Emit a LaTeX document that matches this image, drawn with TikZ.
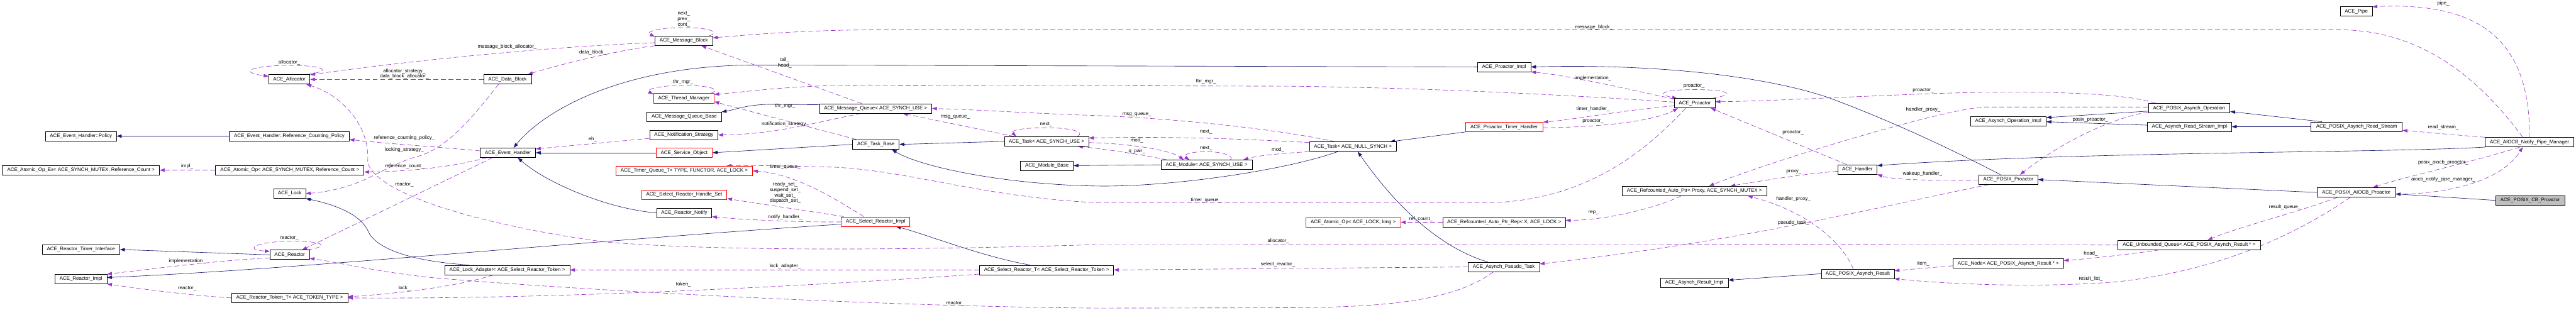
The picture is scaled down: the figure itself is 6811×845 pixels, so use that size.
\documentclass[tikz,border=0pt]{standalone}
\usepackage{fontspec}
\setmainfont{Liberation Sans}
\usetikzlibrary{arrows.meta,calc,backgrounds}
\definecolor{Inherit}{RGB}{25,25,112}
\definecolor{Usage}{RGB}{154,50,205}
\definecolor{BoxRed}{RGB}{255,0,0}
\definecolor{BoxGray}{RGB}{191,191,191}
\tikzset{
  cls/.style={draw=black,line width=0.35pt,inner sep=0pt,minimum height=2.5mm,fill=white,font=\fontsize{3.75}{4.1}\selectfont},
  clsred/.style={cls,draw=BoxRed},
  clsgray/.style={cls,fill=BoxGray},
  inherit/.style={draw=Inherit,line width=0.3pt,-{Triangle[length=1.3mm,width=0.9mm]}},
  uses/.style={draw=Usage,line width=0.3pt,dash pattern=on 1.3mm off 0.7mm,-{Triangle[length=1.3mm,width=0.9mm]}},
  lbl/.style={inner sep=0pt,align=center,font=\fontsize{3.75}{4.1}\selectfont}
}

\begin{document}
\begin{tikzpicture}[x=0.1mm,y=-0.1mm]
  \useasboundingbox (0,0) rectangle (6811,845);

  % classes, column by column
  \node[cls,minimum width=18.8mm] (policy) at (214,360) {ACE\_Event\_Handler::Policy};
  \node[cls,minimum width=41.6mm] (atomopex) at (214,450) {ACE\_Atomic\_Op\_Ex< ACE\_SYNCH\_MUTEX, Reference\_Count >};
  \node[cls,minimum width=20.5mm] (timerif) at (214,660) {ACE\_Reactor\_Timer\_Interface};
  \node[cls,minimum width=13.7mm] (reactimpl) at (214,738) {ACE\_Reactor\_Impl};

  \node[cls,minimum width=10.9mm] (alloc) at (765,210) {ACE\_Allocator};
  \node[cls,minimum width=31.7mm] (refpol) at (765,360) {ACE\_Event\_Handler::Reference\_Counting\_Policy};
  \node[cls,minimum width=39.3mm] (atomop) at (766,450) {ACE\_Atomic\_Op< ACE\_SYNCH\_MUTEX, Reference\_Count >};
  \node[cls,minimum width=8.4mm] (lock) at (766,512) {ACE\_Lock};
  \node[cls,minimum width=10.4mm] (reactor) at (766,674) {ACE\_Reactor};
  \node[cls,minimum width=30.7mm] (tokent) at (766,788) {ACE\_Reactor\_Token\_T< ACE\_TOKEN\_TYPE >};

  \node[cls,minimum width=12.6mm] (datablk) at (1342,210) {ACE\_Data\_Block};
  \node[cls,minimum width=14.6mm] (evh) at (1343,404) {ACE\_Event\_Handler};
  \node[cls,minimum width=33.1mm] (lockadp) at (1341,714) {ACE\_Lock\_Adapter< ACE\_Select\_Reactor\_Token >};

  \node[cls,minimum width=15.2mm] (msgblk) at (1808,108) {ACE\_Message\_Block};
  \node[clsred,minimum width=16.0mm] (thrmgr) at (1808,260) {ACE\_Thread\_Manager};
  \node[cls,minimum width=19.7mm] (mqbase) at (1809,309) {ACE\_Message\_Queue\_Base};
  \node[cls,minimum width=18.1mm] (notstrat) at (1808,357) {ACE\_Notification\_Strategy};
  \node[clsred,minimum width=14.9mm] (svcobj) at (1809,404) {ACE\_Service\_Object};
  \node[clsred,minimum width=36.2mm] (tqueue) at (1809,452) {ACE\_Timer\_Queue\_T< TYPE, FUNCTOR, ACE\_LOCK >};
  \node[clsred,minimum width=22.6mm] (hset) at (1809,515) {ACE\_Select\_Reactor\_Handle\_Set};
  \node[cls,minimum width=14.6mm] (rnotify) at (1809,563) {ACE\_Reactor\_Notify};

  \node[cls,minimum width=29.7mm] (msgq) at (2315,287) {ACE\_Message\_Queue< ACE\_SYNCH\_USE >};
  \node[cls,minimum width=12.3mm] (taskbase) at (2316,382) {ACE\_Task\_Base};
  \node[clsred,minimum width=18.1mm] (selimpl) at (2315,586) {ACE\_Select\_Reactor\_Impl};

  \node[cls,minimum width=22.3mm] (tasksy) at (2767,374) {ACE\_Task< ACE\_SYNCH\_USE >};
  \node[cls,minimum width=14.0mm] (modbase) at (2768,438) {ACE\_Module\_Base};
  \node[cls,minimum width=35.5mm] (selrt) at (2767,714) {ACE\_Select\_Reactor\_T< ACE\_Select\_Reactor\_Token >};

  \node[cls,minimum width=24.1mm] (module) at (3190,436) {ACE\_Module< ACE\_SYNCH\_USE >};

  \node[cls,minimum width=22.9mm] (tasknull) at (3577,388) {ACE\_Task< ACE\_NULL\_SYNCH >};
  \node[clsred,minimum width=25.0mm] (atomlong) at (3578,588) {ACE\_Atomic\_Op< ACE\_LOCK, long >};

  \node[cls,minimum width=14.1mm] (proimpl) at (3977,177) {ACE\_Proactor\_Impl};
  \node[clsred,minimum width=20.5mm] (tmhandler) at (3977,336) {ACE\_Proactor\_Timer\_Handler};
  \node[cls,minimum width=32.4mm] (ptrrep) at (3977,588) {ACE\_Refcounted\_Auto\_Ptr\_Rep< X, ACE\_LOCK >};
  \node[cls,minimum width=18.9mm] (pseudo) at (3976,706) {ACE\_Asynch\_Pseudo\_Task};

  \node[cls,minimum width=10.8mm] (proactor) at (4481,273) {ACE\_Proactor};
  \node[cls,minimum width=38.3mm] (autoptr) at (4480,505) {ACE\_Refcounted\_Auto\_Ptr< Proxy, ACE\_SYNCH\_MUTEX >};
  \node[cls,minimum width=17.9mm] (resimpl) at (4480,748) {ACE\_Asynch\_Result\_Impl};

  \node[cls,minimum width=10.4mm] (handler) at (4911,448) {ACE\_Handler};
  \node[cls,minimum width=19.3mm] (pxresult) at (4912,724) {ACE\_POSIX\_Asynch\_Result};

  \node[cls,minimum width=20.0mm] (opimpl) at (5310,320) {ACE\_Asynch\_Operation\_Impl};
  \node[cls,minimum width=15.7mm] (pxproactor) at (5310,475) {ACE\_POSIX\_Proactor};
  \node[cls,minimum width=29.2mm] (anode) at (5310,697) {ACE\_Node< ACE\_POSIX\_Asynch\_Result * >};

  \node[cls,minimum width=21.6mm] (pxop) at (5788,286) {ACE\_POSIX\_Asynch\_Operation};
  \node[cls,minimum width=22.2mm] (rsimpl) at (5789,335) {ACE\_Asynch\_Read\_Stream\_Impl};
  \node[cls,minimum width=37.6mm] (uqueue) at (5788,648) {ACE\_Unbounded\_Queue< ACE\_POSIX\_Asynch\_Result * >};

  \node[cls,minimum width=8.4mm] (pipe) at (6230,30) {ACE\_Pipe};
  \node[cls,minimum width=24.1mm] (pxrs) at (6231,335) {ACE\_POSIX\_Asynch\_Read\_Stream};
  \node[cls,minimum width=20.7mm] (aiocb) at (6230,509) {ACE\_POSIX\_AIOCB\_Proactor};

  \node[cls,minimum width=23.5mm] (npm) at (6688,376) {ACE\_AIOCB\_Notify\_Pipe\_Manager};
  \node[clsgray,minimum width=18.2mm] (cbpro) at (6690,530) {ACE\_POSIX\_CB\_Proactor};

  \begin{scope}[on background layer]
    \fill[white] (0,0) rectangle (6811,845);

    % inheritance
    \draw[inherit] (refpol.west) -- (policy.east);
    \draw[inherit] (reactor.west) -- (timerif.east);
    \draw[inherit] ($(selimpl.west)+(0,7)$) .. controls (1500,640) and (800,712) .. ($(reactimpl.east)+(0,-4)$);
    \draw[inherit] ($(lockadp.north west)+(64,0)$) .. controls (1050,688) and (990,645) .. (975,615) .. controls (955,565) and (880,540) .. (lock.south east);
    \draw[inherit] (taskbase.west) -- (svcobj.east);
    \draw[inherit] (svcobj.west) -- (evh.east);
    \draw[inherit] (rnotify.west) .. controls (1600,552) and (1440,480) .. ($(evh.south)+(26,0)$);
    \draw[inherit] (proimpl.west) -- (2000,172) .. controls (1650,172) and (1440,290) .. ($(evh.north)+(15,0)$);
    \draw[inherit] ($(selrt.north)+(-43,0)$) .. controls (2600,680) and (2450,620) .. ($(selimpl.south)+(54,0)$);
    \draw[inherit] ($(msgq.west)+(0,-10)$) -- (2040,276) .. controls (1975,276) and (1945,290) .. (mqbase.north east);
    \draw[inherit] (tasksy.west) -- (taskbase.east);
    \draw[inherit] ($(tasknull.south)+(-40,0)$) .. controls (3400,450) and (3100,495) .. (2900,492) .. controls (2650,488) and (2430,440) .. ($(taskbase.south)+(42,0)$);
    \draw[inherit] (module.west) -- (modbase.east);
    \draw[inherit] (tmhandler.south west) -- ($(tasknull.north east)+(-17,0)$);
    \draw[inherit] ($(pseudo.north)+(-42,0)$) .. controls (3820,660) and (3700,560) .. ($(tasknull.south)+(13,0)$);
    \draw[inherit] ($(pxproactor.north)+(-21,0)$) .. controls (5150,390) and (5000,320) .. (4837,259) .. controls (4680,205) and (4400,168) .. (proimpl.east);
    \draw[inherit] ($(pxop.west)+(0,8)$) -- ($(opimpl.east)+(0,-9)$);
    \draw[inherit] ($(rsimpl.west)+(0,-4)$) -- ($(opimpl.east)+(0,2)$);
    \draw[inherit] (pxresult.west) -- ($(resimpl.east)+(0,-7)$);
    \draw[inherit] (npm.south west) .. controls (6300,405) and (5500,400) .. ($(handler.north east)+(0,3)$);
    \draw[inherit] (aiocb.west) -- (pxproactor.east);
    \draw[inherit] ($(pxrs.north west)+(29,0)$) -- ($(pxop.east)+(0,9)$);
    \draw[inherit] (pxrs.west) -- (rsimpl.east);
    \draw[inherit] (cbpro.west) -- ($(aiocb.east)+(0,4)$);

    % members, left part
    \draw[uses] (atomop.west) -- (atomopex.east);
    \draw[uses] ($(reactor.south west)+(0,-5)$) .. controls (560,690) and (400,712) .. (reactimpl.north east);
    \draw[uses] (tokent.west) .. controls (500,781) and (380,765) .. (reactimpl.south east);
    \draw[uses] ($(reactor.north east)+(-6,0)$) .. controls (880,650) and (850,637) .. (765,638) .. controls (680,639) and (640,660) .. ($(reactor.north west)+(0,4)$);
    \draw[uses] ($(evh.south west)+(33,0)$) -- ($(reactor.north)+(33,0)$);
    \draw[uses] ($(evh.south west)+(18,0)$) .. controls (1200,440) and (1100,453) .. ($(atomop.east)+(0,5)$);
    \draw[uses] ($(evh.west)+(0,-5)$) .. controls (1150,388) and (1000,378) .. ($(refpol.east)+(0,9)$);
    \draw[uses] ($(datablk.south)+(-24,0)$) .. controls (1250,310) and (1180,395) .. (1100,415) .. controls (1010,440) and (960,500) .. (lock.east);
    \draw[uses] (datablk.west) -- (alloc.east);
    \draw[uses] ($(msgblk.west)+(0,5)$) .. controls (1400,125) and (1000,172) .. ($(alloc.north east)+(0,1)$);
    \draw[uses] (msgblk.south west) .. controls (1650,130) and (1480,170) .. ($(datablk.north east)+(-10,0)$);
    \draw[uses] (uqueue.west) -- (2900,647) .. controls (2400,662) and (1900,665) .. (1600,640) .. controls (1300,600) and (1000,520) .. (972,430) .. controls (980,330) and (900,250) .. ($(alloc.south east)+(-10,0)$);
    \draw[uses] ($(alloc.north east)+(-8,0)$) .. controls (880,188) and (860,173) .. (765,173) .. controls (670,173) and (625,190) .. ($(alloc.north west)+(0,5)$);
    \draw[uses] ($(msgq.north west)+(113,0)$) -- ($(msgblk.south east)+(-30,0)$);
    \draw[uses] ($(msgq.south west)+(110,0)$) .. controls (2150,325) and (2050,355) .. (notstrat.east);
    \draw[uses] ($(notstrat.west)+(0,9)$) -- ($(evh.north east)+(0,3)$);
    \draw[uses] ($(msgblk.north east)+(-10,0)$) .. controls (1905,86) and (1880,73) .. (1808,73) .. controls (1736,73) and (1705,85) .. ($(msgblk.north west)+(0,2)$);
    \draw[uses] ($(thrmgr.north east)+(-10,0)$) .. controls (1910,238) and (1880,226) .. (1808,226) .. controls (1736,226) and (1705,238) .. ($(thrmgr.north west)+(0,2)$);
    \draw[uses] ($(taskbase.north west)+(10,0)$) -- ($(thrmgr.south east)+(0,-4)$);
    \draw[uses] ($(proactor.west)+(0,-3)$) .. controls (4200,255) and (3800,232) .. (3400,228) -- (2300,225) .. controls (2100,225) and (2000,240) .. ($(thrmgr.north east)+(0,3)$);

    % members of the reactor side
    \draw[uses] ($(selimpl.north west)+(60,0)$) .. controls (2200,520) and (2100,460) .. (tqueue.east);
    \draw[uses] ($(proactor.south west)+(31,0)$) .. controls (4350,400) and (4200,525) .. (3950,536) -- (2900,536) .. controls (2600,522) and (2400,450) .. (2200,442) .. controls (2050,438) and (1960,437) .. ($(tqueue.north east)+(-70,0)$);
    \draw[uses] ($(selimpl.north west)+(7,0)$) .. controls (2150,560) and (2000,538) .. ($(hset.south east)+(0,-3)$);
    \draw[uses] ($(selimpl.west)+(0,1)$) .. controls (2100,588) and (1950,580) .. ($(rnotify.east)+(0,10)$);
    \draw[uses] ($(tasksy.north west)+(27,0)$) -- ($(msgq.south east)+(-77,0)$);
    \draw[uses] ($(tasknull.north west)+(68,0)$) .. controls (3400,345) and (3100,310) .. (2850,304) .. controls (2700,298) and (2560,289) .. (msgq.east);
    \draw[uses] ($(tasksy.north east)+(-30,0)$) .. controls (2870,348) and (2830,338) .. (2766,338) .. controls (2700,338) and (2670,345) .. ($(tasksy.north west)+(32,0)$);
    \draw[uses] ($(tasknull.west)+(0,-11)$) .. controls (3300,368) and (3100,360) .. ($(tasksy.east)+(0,-9)$);
    \draw[uses] ($(tasksy.east)+(0,3)$) .. controls (3000,380) and (3100,400) .. ($(module.north west)+(61,0)$);
    \draw[uses] ($(module.north west)+(17,0)$) .. controls (3000,405) and (2900,392) .. ($(tasksy.south east)+(-29,0)$);
    \draw[uses] ($(module.north east)+(-58,0)$) .. controls (3265,412) and (3230,401) .. (3189,401) .. controls (3148,401) and (3125,410) .. ($(module.north west)+(76,0)$);
    \draw[uses] (tasknull.south west) .. controls (3400,405) and (3330,410) .. ($(module.north east)+(-24,0)$);
    \draw[uses] (pseudo.west) -- (selrt.east);
    \draw[uses] ($(pseudo.south)+(-27,0)$) .. controls (3850,790) and (3700,813) .. (3400,814) -- (2900,815) .. controls (2300,810) and (1500,765) .. (1150,735) .. controls (1000,720) and (900,695) .. ($(reactor.south east)+(0,-4)$);
    \draw[uses] (selrt.west) -- (lockadp.east);
    \draw[uses] ($(selrt.south west)+(0,-2)$) .. controls (2200,752) and (1500,792) .. (tokent.east);
    \draw[uses] ($(lockadp.south west)+(130,0)$) .. controls (1200,760) and (1050,776) .. ($(tokent.east)+(0,-3)$);

    % members of the proactor side
    \draw[uses] (ptrrep.west) -- (atomlong.east);
    \draw[uses] ($(autoptr.south)+(-35,0)$) .. controls (4380,550) and (4250,582) .. ($(ptrrep.east)+(0,-5)$);
    \draw[uses] ($(proactor.north west)+(0,2)$) .. controls (4300,235) and (4150,200) .. (proimpl.south east);
    \draw[uses] ($(proactor.south west)+(0,-6)$) .. controls (4300,290) and (4150,318) .. (tmhandler.north east);
    \draw[uses] ($(tmhandler.east)+(0,2)$) .. controls (4250,336) and (4380,318) .. ($(proactor.south west)+(10,0)$);
    \draw[uses] ($(proactor.north east)+(-8,0)$) .. controls (4590,250) and (4575,237) .. (4479,237) .. controls (4390,237) and (4380,250) .. ($(proactor.north west)+(8,0)$);
    \draw[uses] ($(pxop.north west)+(20,0)$) .. controls (5600,240) and (5300,238) .. (5000,252) .. controls (4800,260) and (4650,268) .. ($(proactor.east)+(0,-4)$);
    \draw[uses] ($(pxop.west)+(0,-3)$) -- (5250,283) .. controls (5150,285) and (4700,420) .. ($(autoptr.north)+(39,0)$);
    \draw[uses] ($(pxop.south west)+(0,-3)$) .. controls (5550,320) and (5420,400) .. ($(pxproactor.north)+(31,0)$);
    \draw[uses] ($(handler.north)+(-29,0)$) -- ($(proactor.south east)+(-12,0)$);
    \draw[uses] ($(handler.west)+(0,5)$) .. controls (4750,462) and (4650,480) .. ($(autoptr.north east)+(-97,0)$);
    \draw[uses] ($(pxproactor.west)+(0,2)$) .. controls (5100,478) and (5000,475) .. (handler.south east);
    \draw[uses] ($(pxproactor.south west)+(28,0)$) .. controls (5000,540) and (4600,640) .. ($(pseudo.east)+(0,-8)$);
    \draw[uses] ($(pxresult.north)+(-12,0)$) .. controls (4870,640) and (4780,560) .. ($(autoptr.south east)+(-51,0)$);
    \draw[uses] ($(anode.west)+(0,6)$) -- ($(pxresult.east)+(0,-8)$);
    \draw[uses] ($(aiocb.south)+(-16,0)$) .. controls (6100,600) and (5900,712) .. (5600,745) .. controls (5400,762) and (5150,752) .. (pxresult.south east);
    \draw[uses] ($(aiocb.south west)+(54,0)$) .. controls (6080,560) and (5920,600) .. ($(uqueue.north)+(49,0)$);
    \draw[uses] ($(uqueue.south west)+(110,0)$) .. controls (5650,670) and (5520,685) .. ($(anode.east)+(0,-8)$);
    \draw[uses] (npm.north) .. controls (6690,100) and (6550,5) .. ($(pipe.north east)+(0,1)$);
    \draw[uses] ($(npm.north)+(-18,0)$) .. controls (6550,200) and (6400,85) .. (6200,79) -- (2300,79) .. controls (2100,80) and (1950,95) .. ($(msgblk.east)+(0,-8)$);
    \draw[uses] (npm.north west) .. controls (6500,358) and (6420,350) .. ($(pxrs.east)+(0,10)$);
    \draw[uses] ($(npm.south)+(-26,0)$) .. controls (6550,425) and (6350,470) .. ($(aiocb.north east)+(-60,0)$);
    \draw[uses] ($(aiocb.east)+(0,5)$) .. controls (6500,512) and (6620,470) .. ($(npm.south)+(-18,0)$);
  \end{scope}

  % member names
  \node[lbl] (l1) at (495,440) {impl\_};
  \node[lbl] (l2) at (495,690) {implementation\_};
  \node[lbl] (l3) at (495,762) {reactor\_};
  \node[lbl] (l4) at (765,166) {allocator\_};
  \node[lbl] (l5) at (1069,195) {allocator\_strategy\_\\data\_block\_allocator\_};
  \node[lbl] (l6) at (1069,365) {reference\_counting\_policy\_};
  \node[lbl] (l7) at (1069,397) {locking\_strategy\_};
  \node[lbl] (l8) at (1069,440) {reference\_count\_};
  \node[lbl] (l9) at (1069,489) {reactor\_};
  \node[lbl] (l10) at (765,629) {reactor\_};
  \node[lbl] (l11) at (1069,762) {lock\_};
  \node[lbl] (l12) at (1341,123) {message\_block\_allocator\_};
  \node[lbl] (l13) at (1567,138) {data\_block\_};
  \node[lbl] (l14) at (1567,369) {eh\_};
  \node[lbl] (l15) at (1808,51) {next\_\\prev\_\\cont\_};
  \node[lbl] (l16) at (2075,166) {tail\_\\head\_};
  \node[lbl] (l17) at (1806,217) {thr\_mgr\_};
  \node[lbl] (l18) at (2076,280) {thr\_mgr\_};
  \node[lbl] (l19) at (2076,329) {notification\_strategy\_};
  \node[lbl] (l20) at (2076,442) {timer\_queue\_};
  \node[lbl] (l21) at (2076,510) {ready\_set\_\\suspend\_set\_\\wait\_set\_\\dispatch\_set\_};
  \node[lbl] (l22) at (2076,575) {notify\_handler\_};
  \node[lbl] (l23) at (2076,704) {lock\_adapter\_};
  \node[lbl] (l24) at (1807,752) {token\_};
  \node[lbl] (l25) at (2526,309) {msg\_queue\_};
  \node[lbl] (l26) at (2766,329) {next\_};
  \node[lbl] (l27) at (2526,803) {reactor\_};
  \node[lbl] (l28) at (3189,216) {thr\_mgr\_};
  \node[lbl] (l29) at (3006,303) {msg\_queue\_};
  \node[lbl] (l30) at (3189,349) {next\_};
  \node[lbl] (l31) at (3006,372) {mod\_};
  \node[lbl] (l32) at (3189,392) {next\_};
  \node[lbl] (l33) at (3006,400) {q\_pair\_};
  \node[lbl] (l34) at (3379,397) {mod\_};
  \node[lbl] (l35) at (3189,529) {timer\_queue\_};
  \node[lbl] (l36) at (3380,638) {allocator\_};
  \node[lbl] (l37) at (3379,699) {select\_reactor\_};
  \node[lbl] (l38) at (3757,579) {ref\_count\_};
  \node[lbl] (l39) at (4214,72) {message\_block\_};
  \node[lbl] (l40) at (4212,207) {implementation\_};
  \node[lbl] (l41) at (4479,228) {proactor\_};
  \node[lbl] (l42) at (4212,288) {timer\_handler\_};
  \node[lbl] (l43) at (4212,321) {proactor\_};
  \node[lbl] (l44) at (4213,562) {rep\_};
  \node[lbl] (l45) at (5085,239) {proactor\_};
  \node[lbl] (l46) at (5085,290) {handler\_proxy\_};
  \node[lbl] (l47) at (4741,351) {proactor\_};
  \node[lbl] (l48) at (4743,455) {proxy\_};
  \node[lbl] (l49) at (5083,460) {wakeup\_handler\_};
  \node[lbl] (l50) at (4742,526) {handler\_proxy\_};
  \node[lbl] (l51) at (4742,590) {pseudo\_task\_};
  \node[lbl] (l52) at (5085,698) {item\_};
  \node[lbl] (l53) at (5527,316) {posix\_proactor\_};
  \node[lbl] (l54) at (5528,671) {head\_};
  \node[lbl] (l55) at (5528,738) {result\_list\_};
  \node[lbl] (l56) at (6041,547) {result\_queue\_};
  \node[lbl] (l57) at (6460,9) {pipe\_};
  \node[lbl] (l58) at (6460,337) {read\_stream\_};
  \node[lbl] (l59) at (6460,430) {posix\_aiocb\_proactor\_};
  \node[lbl] (l60) at (6460,475) {aiocb\_notify\_pipe\_manager\_};
\end{tikzpicture}
\end{document}
